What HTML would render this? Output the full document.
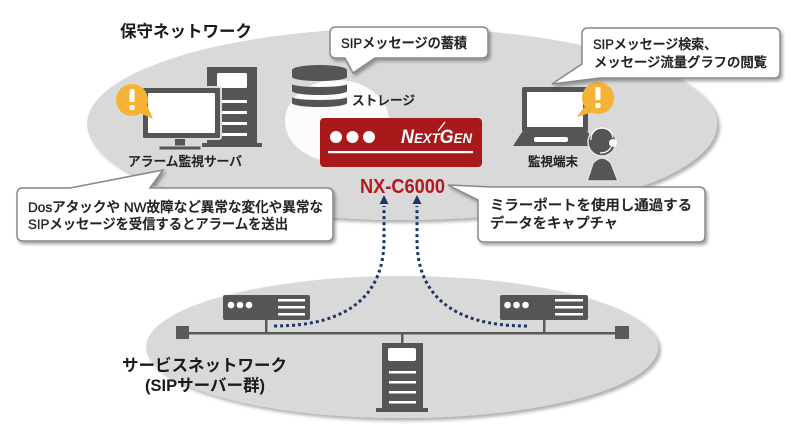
<!DOCTYPE html>
<html>
<head>
<meta charset="utf-8">
<style>
  html,body{margin:0;padding:0;background:#fff;}
  svg{display:block;}
  text{font-family:"Liberation Sans","Noto Sans CJK JP",sans-serif;}
  .m{stroke:#222;stroke-width:0.35;}
</style>
</head>
<body>
<svg width="800" height="438" viewBox="0 0 800 438" xmlns="http://www.w3.org/2000/svg">
  <defs>
    <filter id="esh" x="-10%" y="-10%" width="120%" height="130%">
      <feDropShadow dx="3" dy="3" stdDeviation="1.5" flood-color="#000" flood-opacity="0.3"/>
    </filter>
    <filter id="csh" x="-10%" y="-20%" width="120%" height="150%">
      <feDropShadow dx="2" dy="2.5" stdDeviation="1.5" flood-color="#000" flood-opacity="0.35"/>
    </filter>
  </defs>

  <!-- Top ellipse (maintenance network) -->
  <ellipse cx="402" cy="124" rx="315" ry="96" fill="#d9d9d9" filter="url(#esh)"/>
  <!-- white inner ellipse -->
  <ellipse cx="337" cy="121" rx="52" ry="41" fill="#fcfcfc"/>

  <!-- Bottom ellipse (service network) -->
  <ellipse cx="402" cy="347" rx="256" ry="71" fill="#d9d9d9" filter="url(#esh)"/>

  <!-- Title -->
  <text x="120" y="37" font-size="16.5" font-weight="bold" fill="#1a1a1a" textLength="132" lengthAdjust="spacingAndGlyphs">保守ネットワーク</text>

  <!-- Alarm server: tower -->
  <rect x="207" y="67" width="50" height="77" fill="#555"/>
  <rect x="217" y="73" width="30" height="15" rx="1.5" fill="#fff"/>
  <rect x="220" y="100" width="27" height="3" fill="#fff"/>
  <rect x="220" y="111" width="27" height="3" fill="#fff"/>
  <rect x="220" y="122" width="27" height="3" fill="#fff"/>
  <rect x="220" y="133" width="27" height="3" fill="#fff"/>
  <rect x="202" y="143" width="60" height="4" fill="#555"/>
  <!-- monitor -->
  <rect x="142" y="87" width="79" height="52" rx="2" fill="#555" stroke="#d9d9d9" stroke-width="2"/>
  <rect x="148" y="93" width="67" height="40" rx="1" fill="#fff"/>
  <rect x="175" y="139" width="10" height="8" fill="#555"/>
  <rect x="159" y="146" width="42" height="4" fill="#555" stroke="#d9d9d9" stroke-width="1"/>
  <!-- alert bubble -->
  <polygon points="138,112 153,119 147,105" fill="#f5b335"/>
  <circle cx="132" cy="100" r="16" fill="#f5b335"/>
  <rect x="129.5" y="89" width="5" height="13" rx="1" fill="#fff"/>
  <rect x="129.5" y="105" width="5" height="5" rx="1" fill="#fff"/>
  <text class="m" x="128" y="166" font-size="13" font-weight="500" fill="#222" textLength="114" lengthAdjust="spacingAndGlyphs">アラーム監視サーバ</text>

  <!-- Storage -->
  <path d="M292,70 A27.5,5 0 0 1 347,70 L347,77 A27.5,4 0 0 1 292,77 Z" fill="#555"/>
  <path d="M292,84 A27.5,3 0 0 0 347,84 L347,91 A27.5,4 0 0 1 292,91 Z" fill="#555"/>
  <path d="M292,97 A27.5,3 0 0 0 347,97 L347,103 A27.5,4 0 0 1 292,103 Z" fill="#555"/>
  <text class="m" x="352" y="105" font-size="13" font-weight="500" fill="#222" textLength="63" lengthAdjust="spacingAndGlyphs">ストレージ</text>

  <!-- NextGen box -->
  <rect x="320" y="118" width="162" height="49" rx="4" fill="#a8191c"/>
  <circle cx="336" cy="137" r="6" fill="#fff"/>
  <circle cx="352.5" cy="137" r="6" fill="#fff"/>
  <circle cx="369" cy="137" r="6" fill="#fff"/>
  <rect x="328" y="151" width="145" height="2.2" fill="#fff"/>
  <text x="401" y="143" font-size="19" font-weight="bold" font-style="italic" fill="#fff" style="font-family:'Liberation Sans',sans-serif" textLength="71" lengthAdjust="spacingAndGlyphs">N<tspan font-size="14">EXT</tspan>G<tspan font-size="14">EN</tspan></text>
  <line x1="438" y1="131" x2="445" y2="122" stroke="#fff" stroke-width="1.3"/>

  <text x="360" y="193" font-size="20" font-weight="bold" fill="#b3191e" textLength="85" lengthAdjust="spacingAndGlyphs">NX-C6000</text>

  <!-- Monitoring terminal: laptop -->
  <rect x="522" y="87" width="66" height="45" rx="2" fill="#555"/>
  <rect x="527" y="92" width="56" height="35" fill="#fff"/>
  <polygon points="522,132 588,132 594,146 513,146" fill="#555"/>
  <rect x="534" y="137" width="34" height="5" rx="2" fill="#fff"/>
  <!-- person -->
  <path d="M587,181 L593,163 Q602,153 611,163 L618,181 Z" fill="#555" stroke="#e4e4e4" stroke-width="1.5"/>
  <circle cx="602" cy="142" r="14" fill="#555" stroke="#e4e4e4" stroke-width="1.5"/>
  <path d="M591,140 A11,11 0 0 1 613,138" fill="none" stroke="#fff" stroke-width="1.2"/>
  <circle cx="613" cy="143" r="4" fill="#fff"/>
  <path d="M611,147 Q608,153 600,153" fill="none" stroke="#fff" stroke-width="1.3"/>
  <!-- alert bubble -->
  <polygon points="584,107 577,117 593,112" fill="#f5b335"/>
  <circle cx="598" cy="98" r="16" fill="#f5b335"/>
  <rect x="595.5" y="87" width="5" height="13" rx="1" fill="#fff"/>
  <rect x="595.5" y="103" width="5" height="5" rx="1" fill="#fff"/>
  <text class="m" x="528" y="166" font-size="12.5" font-weight="500" fill="#222" textLength="50" lengthAdjust="spacingAndGlyphs">監視端末</text>

  <!-- Callout: storage -->
  <path d="M336,27 L482,27 Q488,27 488,33 L488,52 Q488,58 482,58 L375,58 L353,73 L345,58 L336,58 Q330,58 330,52 L330,33 Q330,27 336,27 Z" fill="#fff" stroke="#888" stroke-width="1.5" filter="url(#csh)"/>
  <text class="m" x="341" y="48" font-size="14" font-weight="500" fill="#222" textLength="126" lengthAdjust="spacingAndGlyphs">SIPメッセージの蓄積</text>

  <!-- Callout: terminal -->
  <path d="M588,28 L774,28 Q780,28 780,34 L780,72 Q780,78 774,78 L600,78 L552,84 L582,64 L582,34 Q582,28 588,28 Z" fill="#fff" stroke="#888" stroke-width="1.5" filter="url(#csh)"/>
  <text class="m" x="593" y="49" font-size="13.5" font-weight="500" fill="#222" textLength="124" lengthAdjust="spacingAndGlyphs">SIPメッセージ検索、</text>
  <text class="m" x="594" y="67" font-size="13.5" font-weight="500" fill="#222" textLength="173" lengthAdjust="spacingAndGlyphs">メッセージ流量グラフの閲覧</text>

  <!-- Callout: alarm -->
  <path d="M23,188 L70,188 L163,170 L150,188 L327,188 Q333,188 333,194 L333,235 Q333,241 327,241 L23,241 Q17,241 17,235 L17,194 Q17,188 23,188 Z" fill="#fff" stroke="#888" stroke-width="1.5" filter="url(#csh)"/>
  <text class="m" x="28" y="212" font-size="14" font-weight="500" fill="#222" textLength="295" lengthAdjust="spacingAndGlyphs">Dosアタックや NW故障など異常な変化や異常な</text>
  <text class="m" x="28" y="229" font-size="14" font-weight="500" fill="#222" textLength="260" lengthAdjust="spacingAndGlyphs">SIPメッセージを受信するとアラームを送出</text>

  <!-- Callout: mirror port -->
  <path d="M492,187 L448,185 L478,200 L478,236 Q478,242 484,242 L699,242 Q705,242 705,236 L705,193 Q705,187 699,187 Z" fill="#fff" stroke="#888" stroke-width="1.5" filter="url(#csh)"/>
  <text class="m" x="490" y="210" font-size="14" font-weight="500" fill="#222" textLength="202" lengthAdjust="spacingAndGlyphs">ミラーポートを使用し通過する</text>
  <text class="m" x="490" y="228" font-size="14" font-weight="500" fill="#222" textLength="128" lengthAdjust="spacingAndGlyphs">データをキャプチャ</text>

  <!-- Service network -->
  <rect x="189" y="332" width="426" height="2.5" fill="#5a5a5a"/>
  <rect x="176" y="326" width="13" height="13" fill="#5a5a5a"/>
  <rect x="615" y="326" width="14" height="13" fill="#5a5a5a"/>

  <!-- left rack server -->
  <rect x="265" y="319" width="2.5" height="14" fill="#5a5a5a"/>
  <rect x="223" y="295" width="87" height="25" rx="2" fill="#555"/>
  <circle cx="231" cy="305" r="3.3" fill="#fff"/>
  <circle cx="240" cy="305" r="3.3" fill="#fff"/>
  <circle cx="249" cy="305" r="3.3" fill="#fff"/>
  <rect x="278" y="299" width="27" height="2.5" fill="#fff"/>
  <rect x="278" y="306" width="27" height="2.5" fill="#fff"/>
  <rect x="278" y="313" width="27" height="2.5" fill="#fff"/>

  <!-- right rack server -->
  <rect x="543" y="319" width="2.5" height="14" fill="#5a5a5a"/>
  <rect x="500" y="295" width="88" height="25" rx="2" fill="#555"/>
  <circle cx="507.5" cy="305" r="3.3" fill="#fff"/>
  <circle cx="516.5" cy="305" r="3.3" fill="#fff"/>
  <circle cx="525.5" cy="305" r="3.3" fill="#fff"/>
  <rect x="555" y="299" width="28" height="2.5" fill="#fff"/>
  <rect x="555" y="306" width="28" height="2.5" fill="#fff"/>
  <rect x="555" y="313" width="28" height="2.5" fill="#fff"/>

  <!-- center tower server -->
  <rect x="401" y="333" width="2.5" height="11" fill="#5a5a5a"/>
  <rect x="382" y="343" width="41" height="66" fill="#555"/>
  <rect x="388" y="348" width="28" height="13" rx="2" fill="#fff"/>
  <rect x="389" y="371" width="27" height="2.5" fill="#fff"/>
  <rect x="389" y="381" width="27" height="2.5" fill="#fff"/>
  <rect x="389" y="391" width="27" height="2.5" fill="#fff"/>
  <rect x="389" y="401" width="27" height="2.5" fill="#fff"/>
  <rect x="376" y="408" width="52" height="4" fill="#555"/>

  <!-- dotted arrows -->
  <path d="M274,326 C352,326 384,292 384,240 L384,206" fill="none" stroke="#1c3764" stroke-width="3" stroke-dasharray="3 3"/>
  <polygon points="384,195 379.5,204 388.5,204" fill="#1c3764"/>
  <path d="M527,326 C449,326 417,292 417,240 L417,206" fill="none" stroke="#1c3764" stroke-width="3" stroke-dasharray="3 3"/>
  <polygon points="417,195 412.5,204 421.5,204" fill="#1c3764"/>

  <text x="122" y="371" font-size="16.5" font-weight="bold" fill="#1a1a1a" textLength="165" lengthAdjust="spacingAndGlyphs">サービスネットワーク</text>
  <text x="145" y="391" font-size="16.5" font-weight="bold" fill="#1a1a1a" textLength="120" lengthAdjust="spacingAndGlyphs">(SIPサーバー群)</text>
</svg>
</body>
</html>
